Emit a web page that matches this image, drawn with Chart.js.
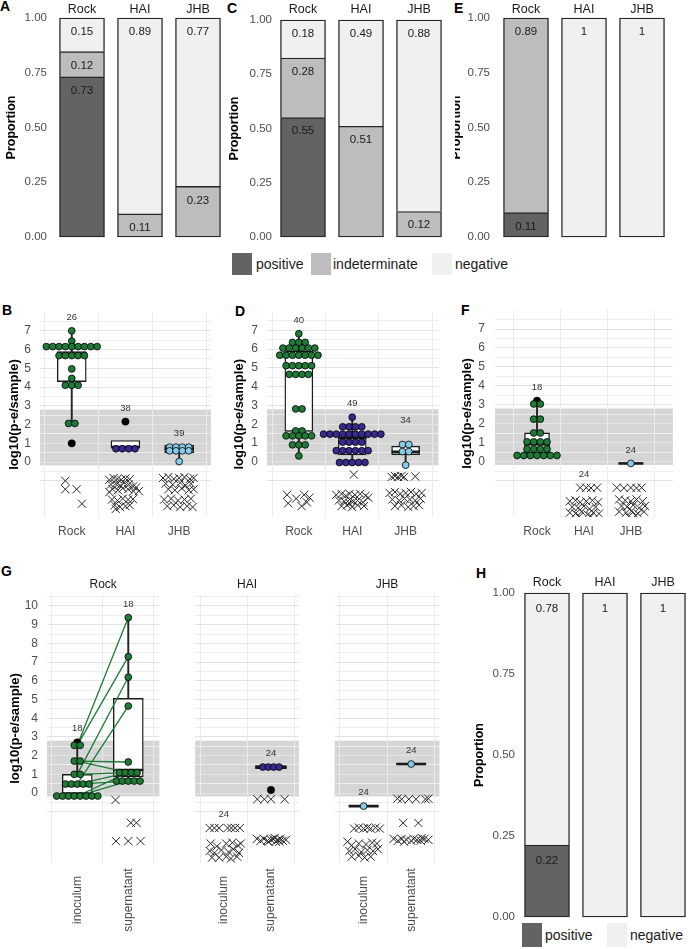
<!DOCTYPE html>
<html><head><meta charset="utf-8">
<script src="https://cdn.jsdelivr.net/npm/chart.js@4.4.1/dist/chart.umd.min.js"></script>
<style>
html,body{margin:0;padding:0;background:#fff;}
body{position:relative;width:688px;height:949px;overflow:hidden;font-family:"Liberation Sans",Arial,sans-serif;}
canvas{position:absolute;}
.pl{position:absolute;font-weight:bold;font-size:14px;line-height:15px;color:#000;}
.sq{position:absolute;}
.lt{position:absolute;font-size:14px;line-height:18px;color:#1a1a1a;white-space:nowrap;}
</style></head><body>
<div class="pl" style="left:0px;top:-1px">A</div>
<div class="pl" style="left:227px;top:1px">C</div>
<div class="pl" style="left:454px;top:1px">E</div>
<div class="pl" style="left:2px;top:303px">B</div>
<div class="pl" style="left:235px;top:304px">D</div>
<div class="pl" style="left:461px;top:303px">F</div>
<div class="pl" style="left:1px;top:564px">G</div>
<div class="pl" style="left:476px;top:566px">H</div>

<div class="sq" style="left:232px;top:253px;width:20px;height:22px;background:#636363"></div>
<div class="lt" style="left:256px;top:255px">positive</div>
<div class="sq" style="left:311px;top:253px;width:20px;height:22px;background:#bdbdbd"></div>
<div class="lt" style="left:333px;top:255px">indeterminate</div>
<div class="sq" style="left:432px;top:253px;width:20px;height:22px;background:#f0f0f0"></div>
<div class="lt" style="left:455px;top:255px">negative</div>

<div class="sq" style="left:522px;top:923px;width:20px;height:24px;background:#636363"></div>
<div class="lt" style="left:545px;top:926px">positive</div>
<div class="sq" style="left:607px;top:923px;width:20px;height:24px;background:#f0f0f0"></div>
<div class="lt" style="left:630px;top:926px">negative</div>

<script>
// ---------------- data ----------------
const sites = ['Rock','HAI','JHB'];
const fractions = ['inoculum','supernatant'];
const propTicks = [0, 0.25, 0.5, 0.75, 1];
const bTicks = [0,1,2,3,4,5,6,7];
const gTicks = [0,1,2,3,4,5,6,7,8,9,10];
const lodBand = [-0.18, 2.8];

// A: proportions
const aPos = [0.7308, 0, 0];
const aInd = [0.1154, 0.1053, 0.2308];
const aNeg = [0.1538, 0.8947, 0.7692];
// C
const cPos = [0.55, 0, 0];
const cInd = [0.275, 0.5102, 0.1176];
const cNeg = [0.175, 0.4898, 0.8824];
// E
const ePos = [0.1111, 0, 0];
const eInd = [0.8889, 0, 0];
const eNeg = [0, 1, 1];
// H
const hPos = [0.2222, 0, 0];
const hNeg = [0.7778, 1, 1];

// B: log10 values (detected)
const bRock = [7.0, 6.45, 6.16,6.16,6.16,6.16,6.16,6.16,6.16,6.16,6.16, 5.68,5.68,5.68,5.68,5.68, 4.97, 4.46, 4.1,4.1,4.1, 2.06,2.06];
const bHAI = [0.71,0.71,0.71,0.71];
const bJHB = [0.8,0.8,0.8,0.8, 0.6,0.6,0.6,0.6, 0.03];
const bQ1 = [4.29, 0.8, 0.5];
const bMed = [5.77, 0.8, 0.71];
const bQ3 = [5.89, 1.15, 0.9];
const bLo = [2.06, 0.8, 0.03];
const bHi = [7.0, 1.15, 0.9];
const bOut = [[1.0],[2.16],[]];
const bN = [26, 38, 39];
const bNdRock = [[-0.12,-1.0],[-0.12,-1.45],[0.09,-1.45],[0.19,-2.22]];
const bNdHAI = [[-0.3,-0.95],[-0.22,-0.85],[-0.15,-0.9],[-0.08,-0.95],[0.0,-0.88],[0.08,-0.92],[-0.27,-1.2],[-0.18,-1.15],[-0.1,-1.25],[-0.02,-1.1],[0.06,-1.2],[0.14,-1.3],[-0.24,-1.45],[-0.14,-1.5],[-0.05,-1.4],[0.05,-1.45],[0.15,-1.55],[0.25,-1.55],[0.2,-1.35],[-0.3,-1.6],[-0.25,-2.0],[-0.15,-2.05],[-0.05,-1.95],[0.05,-2.0],[0.14,-1.98],[-0.2,-2.3],[-0.1,-2.4],[0.0,-2.35],[0.08,-2.3],[-0.18,-2.5]];
const bNdJHB = [[-0.3,-0.85],[-0.2,-0.8],[-0.1,-0.9],[0.0,-0.85],[0.1,-0.8],[0.2,-0.9],[0.27,-0.85],[-0.25,-1.15],[-0.12,-1.2],[0.02,-1.1],[0.12,-1.25],[0.22,-1.15],[-0.2,-1.45],[-0.08,-1.5],[0.05,-1.4],[0.18,-1.5],[0.27,-1.45],[-0.28,-2.0],[-0.15,-1.95],[-0.02,-2.05],[0.1,-2.0],[0.22,-1.95],[-0.22,-2.35],[-0.1,-2.3],[0.02,-2.4],[0.15,-2.35],[0.25,-2.4]];

// D
const dRock = [6.82, 6.36,6.36,6.36, 6.06,6.06,6.06,6.06,6.06,6.06, 5.68,5.68,5.68,5.68,5.68,5.68,5.68, 5.12,5.12,5.12,5.12,5.12, 4.66,4.66,4.66,4.66, 2.82,2.82, 1.65,1.65, 1.39,1.39,1.39,1.39,1.39, 0.91,0.91,0.91, 0.32];
const dHAI = [2.38, 1.87,1.87,1.87,1.87, 1.48,1.48,1.48,1.48,1.48,1.48,1.48,1.48,1.48,1.48, 1.05,1.05,1.05,1.05, 0.6,0.6,0.6,0.6,0.6,0.6, -0.03,-0.03,-0.03,-0.03,-0.03];
const dJHB = [0.93,0.93, 0.55,0.55, -0.17];
const dQ1 = [1.63, 0.37, 0.39];
const dMed = [5.08, 1.28, 0.54];
const dQ3 = [5.89, 1.33, 0.84];
const dLo = [0.32, -0.03, -0.17];
const dHi = [6.82, 2.38, 0.93];
const dOut = [[],[],[]];
const dN = [40, 49, 34];
const dNdRock = [[-0.22,-1.75],[-0.2,-2.2],[-0.05,-1.95],[0.1,-1.75],[0.15,-2.15],[0.2,-1.9],[0.05,-2.35]];
const dNdHAI = [[0.03,-0.67],[-0.3,-1.75],[-0.2,-1.7],[-0.12,-1.8],[-0.05,-1.7],[0.05,-1.75],[0.15,-1.7],[0.25,-1.8],[0.3,-1.9],[-0.25,-2.05],[-0.15,-2.1],[-0.05,-2.0],[0.02,-2.1],[0.1,-2.05],[0.2,-2.15],[-0.2,-2.35],[-0.1,-2.3],[0.0,-2.4],[0.1,-2.3],[0.22,-2.35],[-0.05,-2.2]];
const dNdJHB = [[-0.26,-0.8],[-0.2,-0.75],[-0.14,-0.8],[-0.08,-0.75],[-0.03,-0.8],[0.18,-0.77],[-0.3,-1.65],[-0.2,-1.6],[-0.1,-1.7],[0.0,-1.65],[0.1,-1.6],[0.2,-1.7],[0.3,-1.65],[-0.25,-2.0],[-0.12,-2.05],[-0.02,-1.95],[0.08,-2.0],[0.18,-2.05],[0.28,-1.95],[-0.2,-2.35],[-0.08,-2.3],[0.05,-2.4],[0.15,-2.35],[0.25,-2.3]];

// F
const fRock = [3.04,3.04, 2.24,2.24, 1.51,1.51, 1.04,1.04,1.04,1.04, 0.66,0.66,0.66,0.66, 0.32,0.32,0.32,0.32,0.32,0.32,0.32];
const fHAI = [];
const fJHB = [-0.1];
const fQ1 = [0.44, null, -0.1];
const fMed = [0.91, null, -0.1];
const fQ3 = [1.51, null, -0.1];
const fLo = [0.32, null, null];
const fHi = [3.04, null, null];
const fOut = [[3.21],[],[]];
const fN = [18, 24, 24];
const fNdRock = [];
const fNdHAI = [[-0.08,-1.38],[0.05,-1.38],[0.15,-1.4],[0.28,-1.38],[-0.3,-2.1],[-0.18,-2.05],[-0.08,-2.15],[0.05,-2.1],[0.18,-2.05],[0.3,-2.15],[-0.25,-2.4],[-0.12,-2.45],[0.0,-2.35],[0.12,-2.5],[0.25,-2.4],[-0.3,-2.7],[-0.18,-2.75],[-0.05,-2.65],[0.08,-2.8],[0.2,-2.7],[0.32,-2.75],[-0.1,-2.9],[0.15,-2.9]];
const fNdJHB = [[-0.3,-1.38],[-0.15,-1.4],[0.0,-1.38],[0.12,-1.4],[0.23,-1.38],[-0.25,-2.0],[-0.12,-2.05],[0.0,-2.1],[0.12,-2.0],[0.25,-2.1],[-0.2,-2.35],[-0.08,-2.4],[0.05,-2.3],[0.18,-2.45],[0.3,-2.35],[-0.25,-2.65],[-0.1,-2.7],[0.02,-2.6],[0.15,-2.75],[0.28,-2.65],[-0.05,-2.9],[0.1,-2.85]];

// G: inoculum / supernatant per site
const gRockInoc = [2.55,2.55, 1.71,1.71, 1.0,1.0, 0.48,0.48,0.48,0.48,0.48, -0.16,-0.16,-0.16,-0.16,-0.16,-0.16,-0.16,-0.16];
const gRockSup = [9.38, 7.29, 6.19, 4.65, 1.66, 1.09,1.09,1.09,1.09, 0.64,0.64,0.64,0.64,0.64];
const gRockQ1 = [-0.02, 0.87], gRockMed = [0.39, 1.23], gRockQ3 = [1.0, 5.06], gRockLo = [-0.16, 0.64], gRockHi = [2.55, 9.38];
const gRockOut = [[2.71],[]];
const gRockN = [18, 18];
const gPairInoc = [2.55, 2.55, 1.0, 0.48, 1.71, 1.71, 1.0, 0.48, 0.48, -0.16, -0.16, -0.16];
const gPairSup = [9.38, 7.29, 6.19, 4.65, 1.66, 1.09, 1.09, 1.09, 0.64, 0.64, 1.09, 0.64];
const gNdRockInoc = [];
const gNdRockSup = [[-0.25,-0.37],[0.05,-1.59],[0.16,-1.59],[-0.24,-2.57],[0,-2.57],[0.24,-2.57]];

const gHAIInoc = [];
const gHAISup = [1.39,1.39,1.39,1.39];
const gHAIQ1 = [null, 1.3], gHAIMed = [null, 1.39], gHAIQ3 = [null, 1.47], gHAILo = [null, null], gHAIHi = [null, null];
const gHAIOut = [[],[0.16]];
const gHAIN = [24, 24];
const gNdHAIInoc = [[-0.3,-1.87],[-0.2,-1.87],[-0.1,-1.87],[0.08,-1.87],[0.16,-1.87],[0.24,-1.87],[0.34,-1.87],[-0.28,-2.7],[-0.15,-2.85],[0.05,-2.7],[0.18,-2.65],[0.3,-2.8],[0.36,-2.7],[-0.3,-3.1],[-0.2,-3.2],[-0.05,-3.05],[0.1,-3.15],[0.2,-3.0],[0.32,-3.2],[-0.25,-3.45],[-0.1,-3.45],[0.05,-3.4],[0.15,-3.5],[0.28,-3.4]];
const gNdHAISup = [[-0.29,-0.33],[-0.14,-0.33],[0,-0.33],[0.29,-0.33],[-0.3,-2.45],[-0.22,-2.55],[-0.15,-2.45],[-0.08,-2.55],[0.0,-2.5],[0.05,-2.45],[0.1,-2.6],[0.15,-2.5],[0.2,-2.45],[0.25,-2.55],[0.32,-2.5],[-0.05,-2.6],[0.08,-2.4],[0.18,-2.6]];

const gJHBInoc = [-0.7];
const gJHBSup = [1.55];
const gJHBQ1 = [-0.7, 1.55], gJHBMed = [-0.7, 1.55], gJHBQ3 = [-0.7, 1.55], gJHBLo = [null, null], gJHBHi = [null, null];
const gJHBOut = [[],[]];
const gJHBN = [24, 24];
const gNdJHBInoc = [[-0.2,-1.9],[-0.1,-1.85],[0.0,-1.9],[0.08,-1.85],[0.15,-1.9],[0.25,-1.85],[0.34,-1.9],[-0.34,-2.6],[-0.25,-2.8],[-0.1,-2.7],[0.05,-2.75],[0.18,-2.65],[0.28,-2.7],[-0.3,-3.1],[-0.18,-3.0],[-0.05,-3.15],[0.08,-3.05],[0.2,-3.1],[0.3,-3.0],[-0.25,-3.4],[-0.1,-3.35],[0.02,-3.45],[0.15,-3.4]];
const gNdJHBSup = [[-0.29,-0.3],[-0.2,-0.33],[-0.05,-0.33],[0.1,-0.33],[0.3,-0.33],[0.36,-0.3],[-0.17,-1.6],[0.15,-1.6],[-0.37,-2.45],[-0.28,-2.55],[-0.2,-2.45],[-0.1,-2.5],[0.0,-2.55],[0.05,-2.45],[0.12,-2.5],[0.2,-2.55],[0.28,-2.45],[0.36,-2.5],[-0.15,-2.6],[0.22,-2.4]];

// ---------------- styles ----------------
const FONT = '"Liberation Sans", Arial, sans-serif';
const COL = {pos:'#636363', ind:'#bdbdbd', neg:'#f0f0f0'};
const siteColors = ['#1f7a38', '#382a8c', '#87cbe9'];

Chart.defaults.font.family = FONT;
Chart.defaults.animation = false;
Chart.defaults.events = [];
Chart.defaults.responsive = false;
Chart.defaults.plugins.legend.display = false;
Chart.defaults.plugins.tooltip.enabled = false;

function place(L,T,W,H){
  const c = document.createElement('canvas');
  c.width = W; c.height = H;
  c.style.left = L+'px'; c.style.top = T+'px';
  c.style.width = W+'px'; c.style.height = H+'px';
  document.body.appendChild(c);
  return c;
}
function fix(size){
  return ax => {
    ax.paddingLeft = ax.paddingRight = ax.paddingTop = ax.paddingBottom = 0;
    if (ax.isHorizontal()) ax.height = size; else ax.width = size;
  };
}
function halves(a,b){ const out=[]; for(let k=Math.round(a*2);k<=Math.round(b*2);k++) out.push(k/2); return out; }
function fmt(v){ return String(Math.round(v*100+1e-9)/100); }
function stackDots(vals, cat, sp){
  const groups = new Map();
  vals.forEach(v => groups.set(v, (groups.get(v)||0)+1));
  const pts = [];
  groups.forEach((k,v) => { for(let j=0;j<k;j++) pts.push({x: cat + (j-(k-1)/2)*sp, y: v}); });
  return pts;
}

const valueLabels = off => ({
  id:'valueLabels',
  afterDatasetsDraw(chart){
    const ctx = chart.ctx; ctx.save();
    ctx.font = '11.5px '+FONT; ctx.fillStyle = '#1a1a1a'; ctx.textAlign='center'; ctx.textBaseline='middle';
    chart.data.datasets.forEach((ds,di) => {
      chart.getDatasetMeta(di).data.forEach((el,i) => { ctx.fillText(fmt(ds.data[i].y), el.x, el.y + off); });
    });
    ctx.restore();
  }
});
const bandPlugin = {
  id:'band',
  beforeDraw(chart){
    const {ctx, chartArea:a, scales:{y}} = chart;
    const t = y.getPixelForValue(lodBand[1]), b = y.getPixelForValue(lodBand[0]);
    ctx.save(); ctx.fillStyle = '#d5d5d5'; ctx.fillRect(a.left, t, a.right-a.left, b-t); ctx.restore();
  }
};
const countLabels = counts => ({
  id:'counts',
  afterDatasetsDraw(chart){
    const xs = chart.scales.x; const tops = counts.map(()=>Infinity);
    chart.data.datasets.forEach((ds,di) => {
      if (ds.role !== 'mark') return;
      chart.getDatasetMeta(di).data.forEach((el,k) => {
        const cat = Math.round(ds.data[k].x) - 1;
        if (el.y < tops[cat]) tops[cat] = el.y;
      });
    });
    const ctx = chart.ctx; ctx.save();
    ctx.font = '9.5px '+FONT; ctx.fillStyle = '#333'; ctx.textAlign='center'; ctx.textBaseline='middle';
    counts.forEach((n,i) => { if (isFinite(tops[i])) ctx.fillText(String(n), xs.getPixelForValue(i+1), tops[i]-13.5); });
    ctx.restore();
  }
});
const rotLabels = (cats, yc) => ({
  id:'rotLabels',
  afterDraw(chart){
    const ctx = chart.ctx, xs = chart.scales.x;
    ctx.save(); ctx.font = '12px '+FONT; ctx.fillStyle = '#4d4d4d'; ctx.textAlign='center'; ctx.textBaseline='middle';
    cats.forEach((c,i) => { ctx.save(); ctx.translate(xs.getPixelForValue(i+1), yc); ctx.rotate(-Math.PI/2); ctx.fillText(c,0,0); ctx.restore(); });
    ctx.restore();
  }
});

function barPanel(p){
  const [x0,y0,x1,y1] = p.area;
  const c = place(p.L,p.T,p.W,p.H);
  const series = p.series;
  const lowest = i => series.findIndex(s => s.vals[i] > 0);
  const datasets = series.map((s,si) => ({
    type:'bar', label:s.name,
    data: s.vals.map((v,i) => ({x:i+1, y:v})).filter(d => d.y > 0),
    backgroundColor:s.color, borderColor:'#262626', borderWidth:1.4,
    borderSkipped: ctx => (ctx.raw && lowest(ctx.raw.x-1) === si) ? false : 'start',
    barThickness:45, stack:'s', clip:false
  }));
  new Chart(c, {
    type:'bar', data:{datasets},
    options:{
      layout:{padding:{left:0, top:0, right:p.L+p.W-x1, bottom:p.T+p.H-y1}},
      scales:{
        x:{type:'linear', position:'top', min:p.xmin, max:p.xmax, stacked:true, offset:false,
          afterBuildTicks: ax => { ax.ticks = sites.map((s,i) => ({value:i+1})); },
          ticks:{autoSkip:false, maxRotation:0, padding:p.topPad, color:'#1a1a1a', font:{size:12.5}, callback: v => sites[v-1]},
          grid:{display:false, drawTicks:false}, border:{display:false}, afterFit: fix(y0-p.T)},
        y:{type:'linear', min:0, max:1, stacked:true,
          afterBuildTicks: ax => { ax.ticks = propTicks.map(v => ({value:v})); },
          ticks:{autoSkip:false, padding:p.yPad, color:'#4d4d4d', font:{size:11.5}, callback: v => v.toFixed(2)},
          grid:{display:false, drawTicks:false}, border:{display:false},
          title:{display:true, text:'Proportion', color:'#000', font:{size:12.5, weight:'bold'}, padding:{top:p.titlePad, bottom:0}},
          afterFit: fix(x0-p.L)}
      }
    },
    plugins:[valueLabels(p.labOff)]
  });
}

function dotPanel(p){
  const [x0,y0,x1,y1] = p.area;
  const c = place(p.L,p.T,p.W,p.H);
  const n = p.cats.length;
  const ppu = (x1-x0)/(p.xmax-p.xmin);
  const sp = 6.8/ppu;
  const wh=[], boxes=[], meds=[], outs=[], nds=[];
  for (let i=0;i<n;i++){
    const cx = i+1;
    if (p.q1[i] != null){
      if (p.lo[i] != null && p.lo[i] < p.q1[i]) wh.push({x:cx, y:[p.lo[i], p.q1[i]]});
      if (p.hi[i] != null && p.hi[i] > p.q3[i]) wh.push({x:cx, y:[p.q3[i], p.hi[i]]});
      if (p.q3[i] > p.q1[i]) boxes.push({x:cx, y:[p.q1[i], p.q3[i]]});
      meds.push({x:cx, y:p.med[i]});
    }
    (p.out[i]||[]).forEach(v => outs.push({x:cx, y:v}));
    (p.nd[i]||[]).forEach(([dx,v]) => nds.push({x:cx+dx, y:v}));
  }
  const datasets = [
    {type:'bar', data:wh, backgroundColor:'#262626', borderWidth:0, barThickness:1.3, grouped:false, order:7},
    {type:'bar', data:boxes, backgroundColor:'#ffffff', borderColor:'#1a1a1a', borderWidth:1.4, borderSkipped:false, barThickness:p.boxW, grouped:false, order:6},
    {type:'scatter', data:meds, pointStyle:'line', pointRadius:p.boxW/2, pointBorderColor:'#1a1a1a', pointBorderWidth:2.6, order:5}
  ];
  if (p.pairs){
    const d = [];
    p.pairs[0].forEach((a,k) => { d.push({x:1, y:a}, {x:2, y:p.pairs[1][k]}, {x:1.5, y:null}); });
    datasets.push({type:'line', data:d, borderColor:p.colors[0], borderWidth:1.3, pointRadius:0, spanGaps:false, fill:false, order:4});
  }
  datasets.push({type:'scatter', data:outs, pointRadius:3.7, pointBackgroundColor:'#000', pointBorderColor:'#000', pointBorderWidth:0.5, order:3, role:'mark'});
  p.dots.forEach((vals,i) => {
    if (!vals.length) return;
    datasets.push({type:'scatter', data:stackDots(vals, i+1, sp), pointRadius:3.4, pointBackgroundColor:p.colors[i], pointBorderColor:'#000', pointBorderWidth:0.8, order:2, role:'mark'});
  });
  datasets.push({type:'scatter', data:nds, pointStyle:'crossRot', pointRadius:5.8, pointBackgroundColor:'rgba(0,0,0,0)', pointBorderColor:'#262626', pointBorderWidth:1, order:1, role:'mark'});

  const plugins = [bandPlugin, countLabels(p.counts)];
  if (p.rotated) plugins.push(rotLabels(p.cats, 900 - p.T));
  new Chart(c, {
    type:'scatter', data:{datasets},
    options:{
      layout:{padding:{left:0, right:p.L+p.W-x1, top: p.facet ? 0 : y0-p.T, bottom:0}},
      plugins:{
        title: p.facet ? {display:true, text:p.facet, fullSize:false, color:'#1a1a1a', font:{size:12, weight:'normal'}, padding:{top:y0-p.T-14.4-1.8, bottom:1.8}} : {display:false}
      },
      scales:{
        x:{type:'linear', min:p.xmin, max:p.xmax, offset:false,
          afterBuildTicks: ax => { ax.ticks = p.cats.map((c,i) => ({value:i+1})); },
          ticks:{display:!p.rotated, autoSkip:false, maxRotation:0, padding:p.xPad||0, color:'#4d4d4d', font:{size:12}, callback: v => p.cats[v-1]},
          grid:{drawTicks:false, color:'#ebebeb', lineWidth:1},
          border:{display:false}, afterFit: fix(p.T+p.H-y1)},
        y:{type:'linear', min:p.ymin, max:p.ymax,
          afterBuildTicks: ax => { ax.ticks = p.grid.map(v => ({value:v})); },
          ticks:{display:p.showY, autoSkip:false, padding:p.yPad||0, color:'#4d4d4d', font:{size:12}, callback: v => p.yLabels.includes(v) ? String(v) : ''},
          grid:{drawTicks:false, lineWidth:1, color: ctx => (ctx.tick && Number.isInteger(ctx.tick.value)) ? '#e3e3e3' : '#eeeeee'},
          border:{display:false},
          title:{display:!!p.yTitle, text:p.yTitle||'', color:'#000', font:{size:13, weight:'bold'}, padding:{top:p.titlePad||0, bottom:0}},
          afterFit: fix(x0-p.L)}
      }
    },
    plugins
  });
}

// ---------------- panels ----------------
barPanel({L:0, T:0, W:230, H:242, area:[53,18,227,237], xmin:0.5, xmax:3.5, topPad:1, yPad:6, titlePad:4.5, labOff:14,
  series:[{name:'positive',vals:aPos,color:COL.pos},{name:'indeterminate',vals:aInd,color:COL.ind},{name:'negative',vals:aNeg,color:COL.neg}]});
barPanel({L:225, T:0, W:230, H:242, area:[274,20,448,237], xmin:0.5, xmax:3.5, topPad:2.5, yPad:2, titlePad:2.5, labOff:13.5,
  series:[{name:'positive',vals:cPos,color:COL.pos},{name:'indeterminate',vals:cInd,color:COL.ind},{name:'negative',vals:cNeg,color:COL.neg}]});
barPanel({L:455, T:0, W:233, H:242, area:[497,18,671,237], xmin:0.5, xmax:3.5, topPad:1.2, yPad:7, titlePad:-5.5, labOff:14,
  series:[{name:'positive',vals:ePos,color:COL.pos},{name:'indeterminate',vals:eInd,color:COL.ind},{name:'negative',vals:eNeg,color:COL.neg}]});
barPanel({L:460, T:570, W:228, H:379, area:[518,593,686,917], xmin:0.5, xmax:3.397, topPad:2.5, yPad:3, titlePad:12.5, labOff:16,
  series:[{name:'positive',vals:hPos,color:COL.pos},{name:'negative',vals:hNeg,color:COL.neg}]});

const logTitle = 'log10(p-e/sample)';
dotPanel({L:0, T:295, W:228, H:250, area:[40,303,223,517], xmin:0.409, xmax:3.591, ymin:-2.93, ymax:8.0,
  grid:halves(-1,7.5), yLabels:bTicks, showY:true, yPad:9, yTitle:logTitle, titlePad:6.2, xPad:7.8,
  cats:sites, colors:siteColors, dots:[bRock,bHAI,bJHB], q1:bQ1, med:bMed, q3:bQ3, lo:bLo, hi:bHi, out:bOut,
  nd:[bNdRock,bNdHAI,bNdJHB], counts:bN, boxW:29});
dotPanel({L:225, T:295, W:230, H:250, area:[267,303,450,517], xmin:0.4035, xmax:3.614, ymin:-2.93, ymax:8.0,
  grid:halves(-1,7.5), yLabels:bTicks, showY:true, yPad:9, yTitle:logTitle, titlePad:6.2, xPad:7.8,
  cats:sites, colors:siteColors, dots:[dRock,dHAI,dJHB], q1:dQ1, med:dMed, q3:dQ3, lo:dLo, hi:dHi, out:dOut,
  nd:[dNdRock,dNdHAI,dNdJHB], counts:dN, boxW:28});
dotPanel({L:455, T:295, W:233, H:250, area:[495,303,677,517], xmin:0.104, xmax:3.896, ymin:-2.93, ymax:8.0,
  grid:halves(-1,7.5), yLabels:bTicks, showY:true, yPad:10, yTitle:logTitle, titlePad:4.2, xPad:7.8,
  cats:sites, colors:siteColors, dots:[fRock,fHAI,fJHB], q1:fQ1, med:fMed, q3:fQ3, lo:fLo, hi:fHi, out:fOut,
  nd:[fNdRock,fNdHAI,fNdJHB], counts:fN, boxW:25});

dotPanel({L:0, T:570, W:177, H:379, area:[47,594,177,863], xmin:0.407, xmax:2.61, ymin:-3.74, ymax:10.64,
  grid:halves(-1,10.5), yLabels:gTicks, showY:true, yPad:9, yTitle:logTitle, titlePad:7.2, facet:'Rock', rotated:true,
  cats:fractions, colors:[siteColors[0],siteColors[0]], dots:[gRockInoc,gRockSup], q1:gRockQ1, med:gRockMed, q3:gRockQ3, lo:gRockLo, hi:gRockHi,
  out:gRockOut, nd:[gNdRockInoc,gNdRockSup], counts:gRockN, boxW:30, pairs:[gPairInoc,gPairSup]});
dotPanel({L:177, T:570, W:140, H:379, area:[185,594,315,863], xmin:0.39, xmax:2.593, ymin:-3.74, ymax:10.64,
  grid:halves(-1,10.5), yLabels:gTicks, showY:false, facet:'HAI', rotated:true,
  cats:fractions, colors:[siteColors[1],siteColors[1]], dots:[gHAIInoc,gHAISup], q1:gHAIQ1, med:gHAIMed, q3:gHAIQ3, lo:gHAILo, hi:gHAIHi,
  out:gHAIOut, nd:[gNdHAIInoc,gNdHAISup], counts:gHAIN, boxW:31});
dotPanel({L:317, T:570, W:140, H:379, area:[324,594,454,863], xmin:0.39, xmax:2.593, ymin:-3.74, ymax:10.64,
  grid:halves(-1,10.5), yLabels:gTicks, showY:false, facet:'JHB', rotated:true,
  cats:fractions, colors:[siteColors[2],siteColors[2]], dots:[gJHBInoc,gJHBSup], q1:gJHBQ1, med:gJHBMed, q3:gJHBQ3, lo:gJHBLo, hi:gJHBHi,
  out:gJHBOut, nd:[gNdJHBInoc,gNdJHBSup], counts:gJHBN, boxW:30});
</script>
</body></html>
